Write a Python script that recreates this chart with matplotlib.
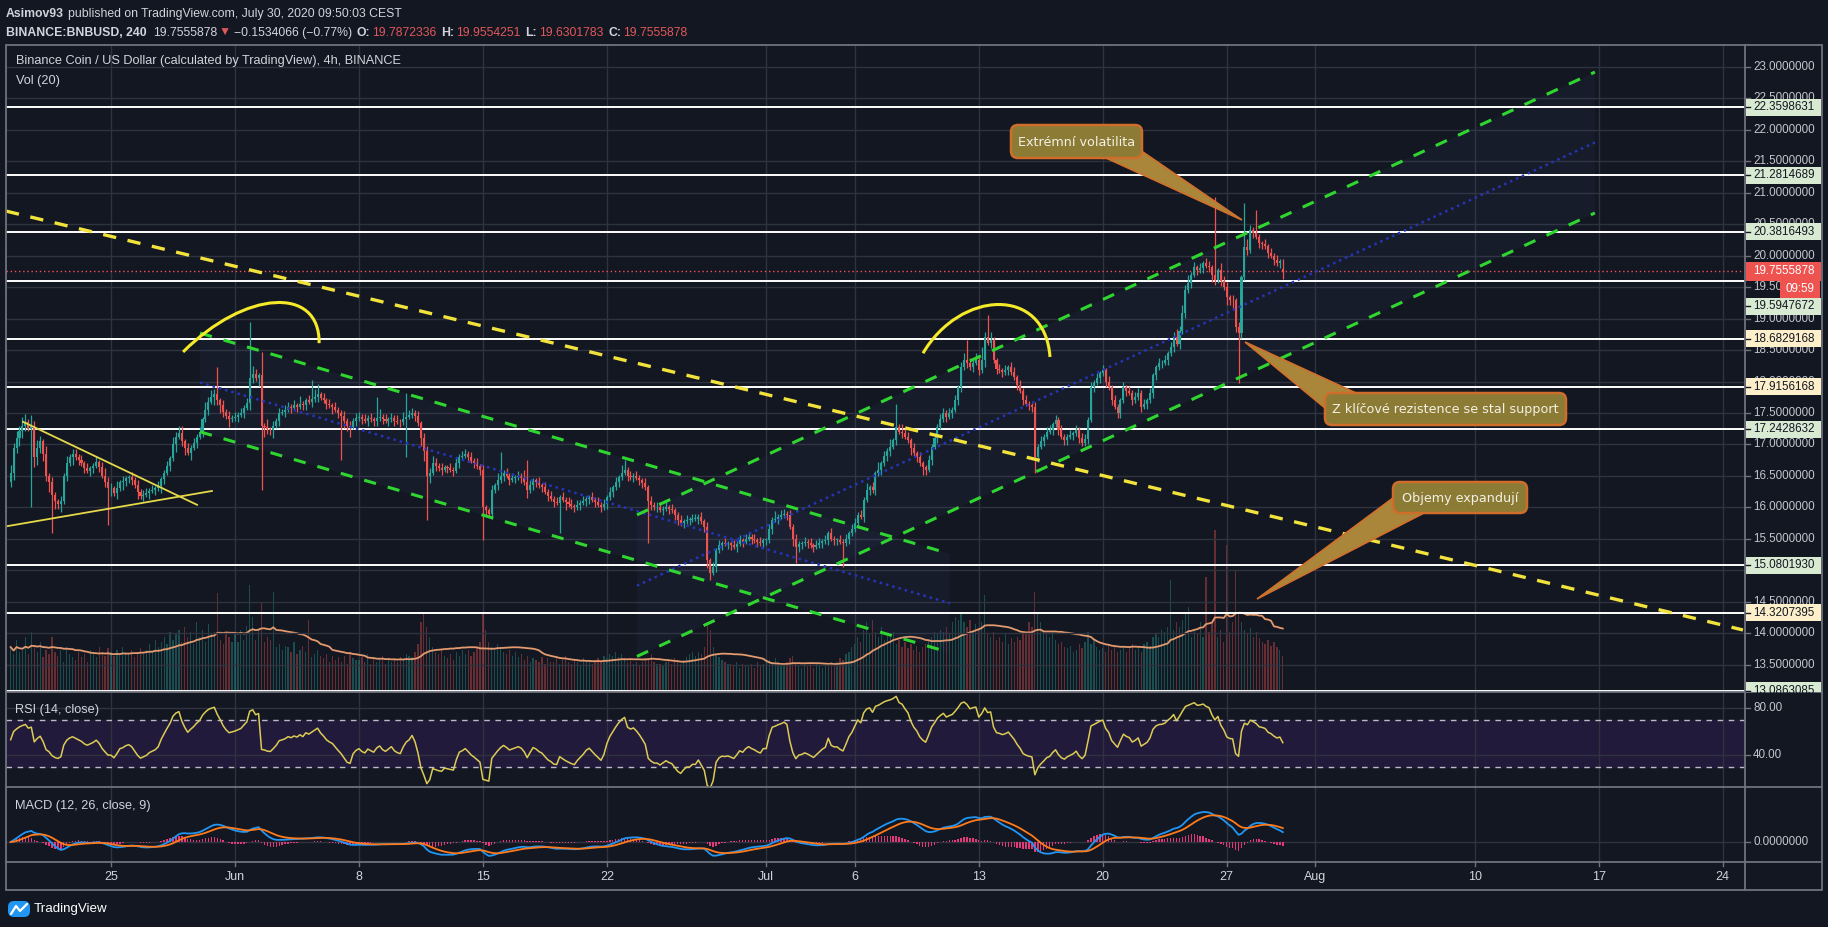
import numpy as np
import pandas as pd
import matplotlib
matplotlib.use("Agg")
import matplotlib.pyplot as plt
from matplotlib.patches import Rectangle, FancyBboxPatch, Polygon, PathPatch
from matplotlib.path import Path

plt.rcParams['font.family'] = ['Liberation Sans', 'DejaVu Sans']

# ----------------------------------------------------------------- data
EPOCH = pd.Timestamp("2020-05-25 00:00")      # x axis: days since this date
START = "2020-05-19 08:00"                    # first 4h candle
OPEN0 = 16.40
LAST_OPEN = 19.7872336

CLOSES = [
    16.55, 16.95, 17.10, 17.22,                       # May 19
    17.30, 17.36, 17.25, 17.30, 16.80, 16.95,         # May 20
    17.05, 16.85, 16.50, 16.40, 16.20, 16.10,
    16.05, 16.10, 16.50, 16.70, 16.80, 16.85,
    16.80, 16.75, 16.70, 16.62, 16.58, 16.62,
    16.66, 16.72, 16.64, 16.50, 16.40, 16.30,
    16.30, 16.22, 16.30, 16.40, 16.42, 16.46,         # May 25
    16.48, 16.44, 16.35, 16.25, 16.18, 16.20,
    16.22, 16.26, 16.28, 16.30, 16.34, 16.45,
    16.55, 16.66, 16.78, 17.00, 17.12, 17.18,
    17.05, 16.95, 16.87, 16.95, 17.02, 17.12,
    17.20, 17.40, 17.55, 17.68, 17.75, 17.80,
    17.70, 17.62, 17.52, 17.45, 17.40, 17.42,         # May 31
    17.44, 17.47, 17.50, 17.58, 17.66, 18.05,         # Jun 1
    18.12, 18.05, 18.10, 17.30, 17.28, 17.24,
    17.23, 17.30, 17.38, 17.50, 17.52, 17.55,
    17.60, 17.58, 17.62, 17.60, 17.65, 17.62,
    17.70, 17.68, 17.72, 17.76, 17.80, 17.74,
    17.70, 17.65, 17.62, 17.60, 17.55, 17.50,
    17.45, 17.38, 17.30, 17.28, 17.38, 17.42,
    17.44, 17.40, 17.38, 17.42, 17.40, 17.38,         # Jun 8
    17.42, 17.44, 17.40, 17.38, 17.40, 17.42,
    17.38, 17.36, 17.35, 17.40, 17.44, 17.46,
    17.50, 17.45, 17.34, 17.10, 16.90, 16.50,
    16.55, 16.70, 16.66, 16.62, 16.60, 16.64,
    16.62, 16.60, 16.58, 16.70, 16.80, 16.82,
    16.85, 16.80, 16.74, 16.70, 16.65, 16.60,
    16.00, 15.95, 15.90, 16.27, 16.35, 16.43,         # Jun 15
    16.50, 16.55, 16.50, 16.44, 16.46, 16.48,
    16.50, 16.47, 16.40, 16.27, 16.35, 16.43,
    16.40, 16.35, 16.32, 16.25, 16.18, 16.14,
    16.08, 16.07, 16.16, 16.12, 16.08, 16.05,
    16.02, 16.00, 16.04, 16.07, 16.10, 16.14,
    16.16, 16.12, 16.08, 16.04, 16.00, 16.05,
    16.16, 16.25, 16.32, 16.40, 16.48, 16.55,         # Jun 22
    16.60, 16.50, 16.48, 16.50, 16.47, 16.43,
    16.38, 16.32, 16.10, 16.04, 16.00, 16.00,
    15.96, 15.98, 16.00, 15.97, 15.95, 15.88,
    15.80, 15.75, 15.78, 15.80, 15.80, 15.82,
    15.82, 15.85, 15.78, 15.69, 15.16, 14.96,
    15.05, 15.32, 15.40, 15.43, 15.42, 15.43,
    15.40, 15.37, 15.42, 15.48, 15.45, 15.50,         # Jun 29
    15.53, 15.50, 15.48, 15.45, 15.43, 15.48,
    15.48, 15.65, 15.80, 15.82, 15.85, 15.87,         # Jul 1
    15.90, 15.88, 15.69, 15.50, 15.37, 15.42,
    15.43, 15.45, 15.43, 15.40, 15.37, 15.40,
    15.43, 15.46, 15.48, 15.59, 15.50, 15.48,
    15.48, 15.45, 15.43, 15.50, 15.59, 15.65,
    15.75, 15.88, 15.85, 16.12, 16.27, 16.32,         # Jul 6
    16.27, 16.54, 16.60, 16.70, 16.82, 16.90,
    16.96, 17.07, 17.28, 17.20, 17.18, 17.12,
    17.07, 16.95, 16.86, 16.80, 16.70, 16.64,
    16.60, 16.75, 16.96, 17.10, 17.28, 17.40,
    17.50, 17.44, 17.50, 17.55, 17.70, 17.91,
    18.23, 18.34, 18.30, 18.23, 18.30, 18.34,
    18.18, 18.35, 18.71, 18.62, 18.66, 18.34,         # Jul 13
    18.20, 18.18, 18.15, 18.18, 18.23, 18.15,
    18.07, 17.95, 17.85, 17.70, 17.65, 17.62,
    17.60, 16.80, 16.96, 17.05, 17.12, 17.20,
    17.23, 17.32, 17.39, 17.23, 17.12, 17.07,
    17.12, 17.15, 17.18, 17.23, 17.10, 17.02,
    17.08, 17.39, 17.91, 17.98, 18.05, 18.13,
    18.18, 18.00, 17.91, 17.70, 17.60, 17.50,         # Jul 20
    17.70, 17.91, 17.85, 17.82, 17.70, 17.75,
    17.82, 17.60, 17.65, 17.70, 17.82, 18.10,
    18.23, 18.29, 18.30, 18.34, 18.45, 18.55,
    18.71, 18.60, 18.80, 19.09, 19.45, 19.57,
    19.70, 19.82, 19.77, 19.80, 19.88, 19.84,
    19.82, 19.70, 19.61, 19.77, 19.60, 19.50,
    19.34, 19.30, 19.29, 18.87, 18.77, 19.66,         # Jul 27
    20.14, 20.09, 20.41, 20.36, 20.30, 20.20,
    20.18, 20.15, 20.04, 20.00, 19.93, 19.88,
    19.909, 19.7555878,                               # Jul 30
]

# wick lengths, one digit per candle (unit = 0.04), one group per day
WICK_UNIT = 0.04
WICK_UP = ("3232 231423 213121 121312 212121 121232 213121 121212 212121 121323 "
           "312121 213232 412121 212124 321213 121212 212131 121341 212121 121212 "
           "212121 231212 121312 212122 232121 121212 212121 211213 312121 213121 "
           "121212 121212 212121 121212 121213 312121 121212 212121 121212 212121 "
           "212121 121212 212121 121312 212121 121212 212121 121212 212131 213121 "
           "312132 212121 121212 212121 231213 252131 121212 212121 121212 212121 "
           "121212 212121 212121 121212 212121 121212 232323 121212 212132 212121 "
           "232121 121212 12")
WICK_DN = ("2323 321243 232413 231213 121212 212123 312132 221312 121213 212131 "
           "231312 121213 232131 121213 213142 231212 121212 212121 121312 232412 "
           "121212 212121 212121 121343 312121 212121 121212 321212 121212 121312 "
           "212121 212131 121212 212121 212121 121212 213212 121212 212121 121232 "
           "121212 212121 121212 212121 121312 212121 121212 212121 121212 121212 "
           "212121 131213 212121 121212 212121 213121 212121 121212 232121 121212 "
           "212121 121212 121212 212121 121212 212121 212121 212121 232121 323212 "
           "121212 212121 21")

HIGH_SPIKES = {
    "2020-05-20 00:00": 17.44, "2020-05-31 00:00": 18.23, "2020-06-01 20:00": 18.95,
    "2020-06-02 12:00": 18.47, "2020-06-05 08:00": 18.02, "2020-06-09 00:00": 17.75,
    "2020-06-10 16:00": 17.82, "2020-06-16 00:00": 16.88, "2020-06-17 12:00": 16.75,
    "2020-06-23 00:00": 16.75, "2020-07-08 08:00": 17.65, "2020-07-12 08:00": 18.66,
    "2020-07-13 12:00": 19.06, "2020-07-26 08:00": 20.93, "2020-07-28 00:00": 20.84,
    "2020-07-28 16:00": 20.73, "2020-07-30 04:00": 19.9554251,
}
LOW_SPIKES = {
    "2020-05-20 12:00": 16.00, "2020-05-21 16:00": 15.59, "2020-05-24 20:00": 15.72,
    "2020-06-02 12:00": 16.27, "2020-06-07 00:00": 16.75, "2020-06-10 16:00": 16.80,
    "2020-06-11 20:00": 15.80, "2020-06-15 00:00": 15.48, "2020-06-19 08:00": 15.59,
    "2020-06-24 08:00": 15.43, "2020-06-27 20:00": 14.84, "2020-07-02 16:00": 15.11,
    "2020-07-05 08:00": 15.05, "2020-07-16 04:00": 16.54, "2020-07-27 16:00": 17.98,
    "2020-07-30 04:00": 19.6301783,
}

VOLUME = [
    45, 38, 52, 40,
    42, 55, 38, 60, 45, 40,  50, 35, 42, 38, 55, 40,  36, 42, 30, 45, 38, 35,
    32, 40, 35, 38, 30, 42,  38, 35, 45, 40, 36, 44,  40, 36, 42, 38, 45, 40,
    38, 42, 35, 40, 44, 38,  42, 48, 40, 52, 45, 50,  55, 48, 60, 52, 58, 62,
    50, 65, 55, 60, 48, 70,  55, 62, 50, 68, 58, 60,  99, 52, 48, 60, 55, 50,
    58, 50, 62, 52, 66, 107, 75, 52, 64, 89, 50, 55,  52, 100, 45, 48, 42, 46,
    45, 40, 50, 38, 42, 46,  40, 72, 35, 38, 42, 36,  34, 38, 30, 36, 32, 35,
    30, 36, 28, 40, 34, 32,  32, 35, 30, 38, 28, 34,  30, 34, 36, 28, 32, 30,
    33, 30, 35, 32, 38, 36,  35, 40, 48, 70, 80, 65,  55, 45, 40, 38, 42, 36,
    34, 38, 32, 40, 36, 42,  38, 42, 36, 40, 45, 50,  80, 62, 50, 45, 42, 48,
    44, 40, 38, 42, 36, 40,  35, 38, 32, 36, 30, 34,  32, 30, 35, 28, 34, 30,
    30, 34, 28, 32, 36, 30,  28, 32, 30, 26, 34, 30,  30, 28, 32, 34, 30, 36,
    34, 38, 36, 40, 35, 38,  34, 30, 32, 28, 30, 26,  30, 34, 32, 38, 30, 28,
    28, 26, 30, 32, 28, 34,  30, 28, 32, 35, 38, 40,  36, 40, 38, 45, 70, 62,
    45, 38, 35, 32, 30, 28,  28, 26, 30, 24, 28, 26,  26, 28, 24, 30, 26, 28,
    30, 32, 28, 34, 30, 26,  28, 30, 34, 36, 28, 26,  24, 28, 26, 30, 24, 28,
    26, 24, 28, 26, 30, 28,  30, 34, 32, 38, 40, 45,  48, 55, 50, 62, 70, 58,
    72, 60, 55, 65, 52, 58,  55, 60, 48, 52, 45, 50,  44, 48, 42, 46, 40, 45,
    48, 52, 55, 60, 58, 62,  60, 65, 58, 70, 75, 72,  80, 70, 65, 72, 60, 68,
    62, 70, 97, 58, 55, 60,  52, 55, 50, 58, 48, 54,  50, 55, 52, 60, 58, 70,
    65, 100, 80, 70, 62, 58, 55, 60, 52, 48, 50, 45,  44, 46, 40, 42, 48, 44,
    50, 60, 48, 52, 45, 42,  44, 40, 46, 42, 45, 40,  42, 46, 40, 44, 48, 42,
    45, 40, 48, 50, 46, 55,  58, 55, 62, 60, 65, 112, 62, 70, 65, 72, 78, 85,
    55, 62, 58, 70, 55, 115, 60, 70, 162, 55, 62, 50, 147, 60, 70, 122, 80, 70,
    62, 58, 64, 55, 60, 54,  50, 48, 52, 46, 50, 45,
    42, 36,
]

# horizontal levels and the colour of their price-scale label
H_LEVELS = [22.3598631, 21.2814689, 20.3816493, 19.5947672, 18.6829168,
            17.9156168, 17.2428632, 15.0801930, 14.3207395, 13.0863085]
H_KIND = ["g", "g", "g", "g", "y", "y", "g", "g", "y", "g"]
LABEL_SHIFT_PX = {19.5947672: 25}          # label pushed down by the price label
LAST_PRICE = 19.7555878
COUNTDOWN = "09:59"

# drawings: (days since EPOCH, price)
YELLOW_TREND = ([-5.93, 92.15], [20.71, 14.05])
DESC_UP = ([5.03, 47.37], [18.77, 15.26])
DESC_LO = ([5.03, 47.37], [17.20, 13.69])
ASC_UP = ([29.70, 83.79], [15.88, 22.92])
ASC_LO = ([29.70, 83.79], [13.63, 20.68])
TRI_UP = ([-4.97, 4.86], [17.36, 16.04])
TRI_LO = ([-5.87, 5.70], [15.70, 16.26])
ARC1 = ([4.07, 7.57, 11.80, 11.75], [18.47, 19.455, 19.53, 18.61])
ARC2 = ([45.85, 47.94, 52.74, 53.02], [18.45, 19.455, 19.53, 18.39])

TIME_TICKS = [("2020-05-25", "25"), ("2020-06-01", "Jun"), ("2020-06-08", "8"),
              ("2020-06-15", "15"), ("2020-06-22", "22"), ("2020-07-01", "Jul"),
              ("2020-07-06", "6"), ("2020-07-13", "13"), ("2020-07-20", "20"),
              ("2020-07-27", "27"), ("2020-08-01", "Aug"), ("2020-08-10", "10"),
              ("2020-08-17", "17"), ("2020-08-24", "24")]

CALLOUTS = [
    ("Extrémní volatilita", (1011, 125, 1142, 158), [(1106, 158), (1140, 150), (1242, 220)]),
    ("Z klíčové rezistence se stal support", (1325, 393, 1566, 425),
     [(1245, 342), (1325, 408), (1356, 393)]),
    ("Objemy expandují", (1393, 482, 1527, 513), [(1257, 599), (1393, 498), (1424, 513)]),
]

HEADER_1 = [("Asimov93", "txt", "bold", 4),
            ("published on TradingView.com, July 30, 2020 09:50:03 CEST", "txt", "normal", 0)]
HEADER_2 = [("BINANCE:BNBUSD, 240", "txt", "bold", 6), ("19.7555878", "txt", "normal", 2),
            ("▼", "red", "normal", 3), ("−0.1534066 (−0.77%)", "txt", "normal", 4),
            ("O:", "txt", "bold", 2), ("19.7872336", "red", "normal", 5),
            ("H:", "txt", "bold", 2), ("19.9554251", "red", "normal", 5),
            ("L:", "txt", "bold", 2), ("19.6301783", "red", "normal", 5),
            ("C:", "txt", "bold", 2), ("19.7555878", "red", "normal", 0)]

# ----------------------------------------------------------------- style
BG = "#131722"
GRID = "#2f3340"
BORDER = "#6f727c"
TXT = "#d1d4dc"
AX_TXT = "#c3c5cb"
UP = "#26a69a"
DN = "#ef5350"
RED_T = "#e0585a"

W, H = 1828, 927
fig = plt.figure(figsize=(W / 100, H / 100), dpi=100, facecolor=BG)


def px_axes(x0, y0, x1, y1, **kw):
    return fig.add_axes([x0 / W, 1 - y1 / H, (x1 - x0) / W, (y1 - y0) / H], **kw)


LX, RX = 6, 1745
XMIN = (LX - 111) / 17.71
XMAX = (RX - 111) / 17.71

ax_vol = px_axes(LX, 45, RX, 692)
ax = px_axes(LX, 45, RX, 692)
ax_rsi = px_axes(LX, 692, RX, 787)
ax_macd = px_axes(LX, 787, RX, 862)
for a in (ax_vol, ax, ax_rsi, ax_macd):
    a.set_xlim(XMIN, XMAX)
    a.set_xticks([]); a.set_yticks([])
    for s in a.spines.values():
        s.set_visible(False)
ax_vol.set_facecolor(BG)
ax.set_facecolor("none")
ax_rsi.set_facecolor(BG)
ax_macd.set_facecolor(BG)
ax.set_ylim(13.064, 23.35)
ax_rsi.set_ylim(12.8, 93.6)

# ----------------------------------------------------------------- series
closes = np.array(CLOSES, dtype=float)
n = len(closes)
times = pd.date_range(START, periods=n, freq="4h")
xd = ((times - EPOCH) / pd.Timedelta("1D")).values.astype(float)
opens = np.r_[OPEN0, closes[:-1]]
opens[-1] = LAST_OPEN

wu = "".join(WICK_UP.split()); wd = "".join(WICK_DN.split())
wu = (wu + "1" * n)[:n]; wd = (wd + "1" * n)[:n]
up_w = np.array([int(c) for c in wu]) * WICK_UNIT
dn_w = np.array([int(c) for c in wd]) * WICK_UNIT
highs = np.maximum(opens, closes) + up_w
lows = np.minimum(opens, closes) - dn_w
tindex = {t: i for i, t in enumerate(times)}
for k, v in HIGH_SPIKES.items():
    i = tindex.get(pd.Timestamp(k))
    if i is not None:
        highs[i] = max(v, max(opens[i], closes[i]))
for k, v in LOW_SPIKES.items():
    i = tindex.get(pd.Timestamp(k))
    if i is not None:
        lows[i] = min(v, min(opens[i], closes[i]))

vol = np.array((VOLUME + [40] * n)[:n], dtype=float)
is_up = closes >= opens
cols = np.where(is_up, UP, DN)

# ----------------------------------------------------------------- grids
tick_d = [(pd.Timestamp(t) - EPOCH) / pd.Timedelta("1D") for t, _ in TIME_TICKS]
for a in (ax_vol, ax_macd):
    for d in tick_d:
        a.axvline(d, color=GRID, lw=1, zorder=0)
for p in np.arange(13.5, 23.01, 0.5):
    ax.axhline(p, color=GRID, lw=1, zorder=0.5)

# ----------------------------------------------------------------- volume
ax_vol.set_ylim(0, vol.max() / 0.25)
ax_vol.bar(xd, vol, width=0.07, color=cols, alpha=0.38, linewidth=0, zorder=1)
vma = pd.Series(vol).rolling(20, min_periods=1).mean()
ax_vol.plot(xd, vma, color="#e39a6e", lw=1.3, zorder=2)

# ----------------------------------------------------------------- drawings under candles
for up, lo in ((DESC_UP, DESC_LO), (ASC_UP, ASC_LO)):
    ax.fill([up[0][0], up[0][1], lo[0][1], lo[0][0]],
            [up[1][0], up[1][1], lo[1][1], lo[1][0]],
            color="#5b6fb5", alpha=0.06, lw=0, zorder=1)
for lv in H_LEVELS:
    ax.axhline(lv, color="white", lw=1.4, zorder=2)
ax.axhline(LAST_PRICE, color=DN, lw=1, ls=(0, (1, 2)), zorder=2)

# ----------------------------------------------------------------- candles
ax.vlines(xd, lows, highs, colors=cols, lw=0.9, zorder=3)
body = np.maximum(np.abs(closes - opens), 0.012)
ax.bar(xd, body, bottom=np.minimum(opens, closes), width=0.115, color=cols,
       linewidth=0, zorder=3.2)

# ----------------------------------------------------------------- drawings over candles
GREEN = "#2fd62f"
YEL = "#f2e33c"
ax.plot(*YELLOW_TREND, color=YEL, lw=2.4, ls=(0, (4, 3.5)), zorder=4)
for ln in (DESC_UP, DESC_LO, ASC_UP, ASC_LO):
    ax.plot(*ln, color=GREEN, lw=2.2, ls=(0, (4, 4)), zorder=4)
for up, lo in ((DESC_UP, DESC_LO), (ASC_UP, ASC_LO)):
    mid = [(a + b) / 2 for a, b in zip(up[1], lo[1])]
    ax.plot(up[0], mid, color="#2634b8", lw=1.8, ls=(0, (1, 1.6)), zorder=3.5)
for ln in (TRI_UP, TRI_LO):
    ax.plot(*ln, color="#e5d94a", lw=1.3, zorder=4)
for arc in (ARC1, ARC2):
    verts = list(zip(*arc))
    ax.add_patch(PathPatch(Path(verts, [Path.MOVETO, Path.CURVE4, Path.CURVE4, Path.CURVE4]),
                           fc="none", ec="#f5ea2a", lw=2.2, zorder=4))

# ----------------------------------------------------------------- RSI (Wilder, 14)
s = pd.Series(closes)
delta = np.diff(closes, prepend=OPEN0)
g = np.clip(delta, 0, None)
l = np.clip(-delta, 0, None)
seed = np.abs(delta[:14]).mean() / 2
ag, al = seed, seed
rsi = np.empty(n)
for i in range(n):
    ag = (ag * 13 + g[i]) / 14
    al = (al * 13 + l[i]) / 14
    rsi[i] = 100 - 100 / (1 + ag / al) if al > 0 else 100
ax_rsi.axhspan(30, 70, color="#221a3b", zorder=0.2)
for d in tick_d:
    ax_rsi.axvline(d, color=GRID, lw=1, zorder=0.3)
for v in (80, 40):
    ax_rsi.axhline(v, color=GRID, lw=1, zorder=0.5)
for v in (70, 30):
    ax_rsi.axhline(v, color="#b9bcc4", lw=1, ls=(0, (4, 4)), zorder=1)
ax_rsi.plot(xd, rsi, color="#dccb55", lw=1.1, zorder=2)

# ----------------------------------------------------------------- MACD
ema12 = s.ewm(span=12, adjust=False).mean()
ema26 = s.ewm(span=26, adjust=False).mean()
macd = ema12 - ema26
sig = macd.ewm(span=9, adjust=False).mean()
hist = macd - sig
M = max(macd.max(), sig.max())
ax_macd.set_ylim(-M * 20 / 30, M * 55 / 30)
ax_macd.axhline(0, color=GRID, lw=1, zorder=0.5)
ax_macd.bar(xd, hist, width=0.08, color="#e23a78", linewidth=0, zorder=1)
ax_macd.plot(xd, macd, color="#2196f3", lw=1.3, zorder=2)
ax_macd.plot(xd, sig, color="#ff7a1a", lw=1.3, zorder=2)

# ----------------------------------------------------------------- overlay (pixel space)
ov = fig.add_axes([0, 0, 1, 1], facecolor="none", zorder=10)
ov.set_xlim(0, W); ov.set_ylim(H, 0); ov.axis("off")
renderer = fig.canvas.get_renderer()


def ypx(a, v):
    return H - a.transData.transform((XMIN, v))[1]


def xpx(d):
    return ax.transData.transform((d, 15))[0]


# pane frames
ov.add_patch(Rectangle((LX, 45), 1822 - LX, 890 - 45, fc="none", ec=BORDER, lw=1.3))
ov.plot([RX, RX], [45, 890], color=BORDER, lw=1.3)
for yy in (692, 787, 862):
    ov.plot([LX, 1822], [yy, yy], color=BORDER, lw=1.3)

# price scale
FS_AX = 8.4
for p in np.arange(13.5, 23.01, 0.5):
    y = ypx(ax, p)
    if 48 < y < 690:
        ov.plot([RX, RX + 5], [y, y], color=BORDER, lw=1)
        ov.text(1753, y, f"{p:.7f}", color=AX_TXT, fontsize=FS_AX, va="center", ha="left")
for v in (80, 40):
    y = ypx(ax_rsi, v)
    ov.plot([RX, RX + 5], [y, y], color=BORDER, lw=1)
    ov.text(1753, y, f"{v:.2f}", color=AX_TXT, fontsize=FS_AX, va="center")
y0 = ypx(ax_macd, 0)
ov.plot([RX, RX + 5], [y0, y0], color=BORDER, lw=1)
ov.text(1753, y0, "0.0000000", color=AX_TXT, fontsize=FS_AX, va="center")

clip = Rectangle((RX, 45), 90, 692 - 45, transform=ov.transData)
for lv, kind in zip(H_LEVELS, H_KIND):
    y = ypx(ax, lv) + LABEL_SHIFT_PX.get(lv, 0)
    fc = "#d8ead2" if kind == "g" else "#fcefc9"
    r = ov.add_patch(Rectangle((RX + 1, y - 8.5), 75, 17, fc=fc, ec="none", zorder=3))
    t = ov.text(1753, y, f"{lv:.7f}", color="#131722", fontsize=FS_AX, va="center", zorder=4)
    dsh, = ov.plot([RX + 1, RX + 5], [y, y], color="#131722", lw=1, zorder=4)
    for art in (r, t, dsh):
        art.set_clip_path(clip)
yl = ypx(ax, LAST_PRICE)
ov.add_patch(Rectangle((RX + 1, yl - 9.5), 75, 19, fc=DN, ec="none", zorder=5))
ov.text(1753, yl, f"{LAST_PRICE:.7f}", color="white", fontsize=FS_AX, va="center", zorder=6)
ov.add_patch(Rectangle((1780, yl + 9.5), 40, 17, fc=DN, ec="none", zorder=5))
ov.text(1800, yl + 18, COUNTDOWN, color="white", fontsize=FS_AX, va="center", ha="center", zorder=6)

# time scale
for d, (_, lab) in zip(tick_d, TIME_TICKS):
    x = xpx(d)
    ov.plot([x, x], [862, 866], color=BORDER, lw=1)
    ov.text(x, 877, lab, color=TXT, fontsize=9.0, ha="center", va="center")

# pane titles
ov.text(16, 61, "Binance Coin / US Dollar (calculated by TradingView), 4h, BINANCE",
        color=TXT, fontsize=9.2, va="center")
ov.text(16, 81, "Vol (20)", color=TXT, fontsize=9.2, va="center")
ov.text(15, 710, "RSI (14, close)", color=TXT, fontsize=9.2, va="center")
ov.text(15, 806, "MACD (12, 26, close, 9)", color=TXT, fontsize=9.2, va="center")


# header: segments placed one after another using their rendered widths
def chain(segs, y, x=6, fs=8.8):
    for txt, ckey, weight, gap in segs:
        t = ov.text(x, y, txt, color=TXT if ckey == "txt" else RED_T, fontsize=fs,
                    fontweight=weight, va="center", ha="left")
        bb = t.get_window_extent(renderer=renderer)
        x += bb.width + gap


chain(HEADER_1, 14)
chain(HEADER_2, 33)

# callouts
for text, (x0, y0b, x1, y1b), tail in CALLOUTS:
    ov.add_patch(Polygon(tail, closed=True, fc="#a9863a", ec="#d0702c", lw=1.2, zorder=6))
    ov.add_patch(FancyBboxPatch((x0, y0b), x1 - x0, y1b - y0b,
                                boxstyle="round,pad=0,rounding_size=7",
                                fc="#8c7b35", ec="#cf6d2b", lw=1.8, zorder=7))
    ov.text((x0 + x1) / 2, (y0b + y1b) / 2 + 1, text, color="#f3f1e6", fontsize=9.2,
            ha="center", va="center", family=["DejaVu Sans"], zorder=8)

# TradingView logo
ov.add_patch(FancyBboxPatch((8, 901), 22, 16, boxstyle="round,pad=0,rounding_size=6",
                            fc="#2196f3", ec="none"))
ov.plot([11, 16, 20, 27], [914, 906, 911, 904], color="white", lw=1.6,
        solid_capstyle="round")
ov.text(34, 909, "TradingView", color="white", fontsize=9.6, va="center")

fig.savefig("out.png", dpi=100, facecolor=BG)
